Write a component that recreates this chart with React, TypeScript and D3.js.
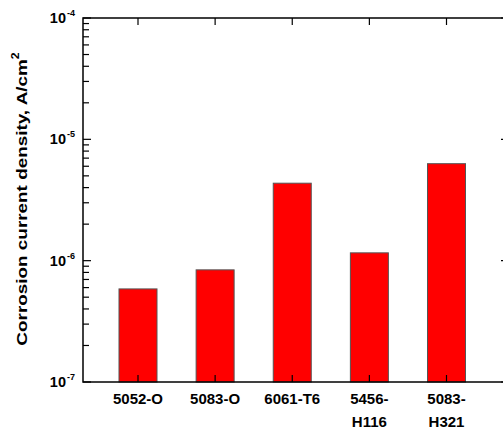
import React from 'react';
import * as d3 from 'd3';

// alloy tempers and their corrosion current density (A/cm^2)
const alloys = ['5052-O', '5083-O', '6061-T6', '5456-H116', '5083-H321'];
const labelLines = [['5052-O'], ['5083-O'], ['6061-T6'], ['5456-', 'H116'], ['5083-', 'H321']];
const currentDensity = [5.85e-7, 8.4e-7, 4.35e-6, 1.16e-6, 6.3e-6];
const decades = [1e-7, 1e-6, 1e-5, 1e-4];
const decadeExp = ['-7', '-6', '-5', '-4'];

const W = 503;
const H = 427;
const plot = { left: 83, right: 509, top: 18, bottom: 382 };

const App = () => {
  const y = d3.scaleLog().domain([1e-7, 1e-4]).range([plot.bottom, plot.top]);
  const x = d3.scalePoint<string>().domain(alloys).range([138, 446.5]);
  const barW = 38;

  const allTicks = y.ticks();
  const font = 'Arial, "Liberation Sans", sans-serif';

  return (
    <svg width={W} height={H} style={{ position: 'absolute', left: 0, top: 0, background: '#fff' }}
      fontFamily={font}>
      {/* bars */}
      {alloys.map((a, i) => (
        <rect key={a} x={x(a)! - barW / 2} y={y(currentDensity[i])} width={barW}
          height={plot.bottom - y(currentDensity[i])} fill="#ff0000" stroke="#555" strokeWidth={1} />
      ))}

      {/* left + right ticks */}
      {allTicks.map((t, i) => {
        const major = decades.some(d => Math.abs(d - t) / d < 1e-6);
        const len = major ? 8 : 6;
        const yy = y(t);
        return (
          <g key={i}>
            <line x1={plot.left} x2={plot.left + len} y1={yy} y2={yy} stroke="#000" strokeWidth={1.2} />
            <line x1={plot.right} x2={plot.right - len} y1={yy} y2={yy} stroke="#000" strokeWidth={1.2} />
          </g>
        );
      })}

      {/* top + bottom category ticks */}
      {alloys.map(a => (
        <g key={a}>
          <line x1={x(a)} x2={x(a)} y1={plot.bottom} y2={plot.bottom - 7} stroke="#000" strokeWidth={1.2} />
          <line x1={x(a)} x2={x(a)} y1={plot.top} y2={plot.top + 7} stroke="#000" strokeWidth={1.2} />
        </g>
      ))}

      {/* frame */}
      <rect x={plot.left} y={plot.top} width={plot.right - plot.left} height={plot.bottom - plot.top}
        fill="none" stroke="#000" strokeWidth={1.5} />

      {/* y tick labels */}
      {decades.map((d, i) => (
        <text key={d} x={66} y={y(d) + 5} textAnchor="end" fontSize={14.5} fontWeight="bold">
          10
          <tspan x={67} dy={-7} fontSize={9} textAnchor="start">{decadeExp[i]}</tspan>
        </text>
      ))}

      {/* x labels */}
      {alloys.map((a, i) => (
        <text key={a} x={x(a)} y={404} textAnchor="middle" fontSize={15} fontWeight="bold">
          {labelLines[i].map((l, j) => (
            <tspan key={j} x={x(a)} dy={j === 0 ? 0 : 23}>{l}</tspan>
          ))}
        </text>
      ))}

      {/* y axis title */}
      <text transform={`translate(27,199) rotate(-90) scale(1.22,1)`} textAnchor="middle"
        fontSize={15.5} fontWeight="bold">
        Corrosion current density, A/cm
        <tspan dy={-8} fontSize={10}>2</tspan>
      </text>
    </svg>
  );
};

export default App;
